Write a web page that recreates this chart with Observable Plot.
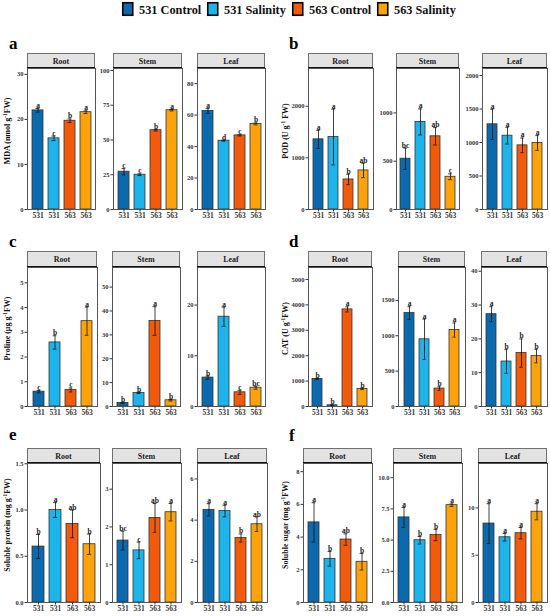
<!DOCTYPE html>
<html><head><meta charset="utf-8">
<script src="https://cdn.jsdelivr.net/npm/d3@7"></script>
<script src="https://cdn.jsdelivr.net/npm/@observablehq/plot@0.6"></script>
<style>
body{margin:0;background:#fff;}
#root{position:relative;width:550px;height:616px;overflow:hidden;font-family:'Liberation Serif','Times New Roman','DejaVu Serif',serif;}
#root svg{position:absolute;}
#root svg text{font-family:'Liberation Serif','Times New Roman','DejaVu Serif',serif;}
</style></head>
<body><div id="root"></div>
<script>
// ---------- data ----------
const tissues = ["Root","Stem","Leaf"];
const groups = ["531 Control","531 Salinity","563 Control","563 Salinity"];
const xLabels = ["531","531","563","563"];
const colors = ["#0a6aad","#1cb4ea","#f25a0c","#fca30c"];

// a: MDA
const mdaMean = [[22.0,15.8,19.7,21.6],[27.2,25.0,57.0,71.4],[62.6,43.7,47.1,54.4]];
const mdaErr  = [[0.4,0.5,0.4,0.3],[2.2,0.6,0.6,0.5],[1.5,0.3,0.4,0.6]];
const mdaSig  = [["a","c","b","a"],["c","c","b","a"],["a","d","c","b"]];
const mdaMax  = [31.3,101.4,89.6];
const mdaTicks = [[0,10,20,30],[0,25,50,75,100],[0,20,40,60,80]];
const mdaFmt = ["","",""];

// b: POD
const podMean = [[1359,1404,582,757],[526,907,758,339],[1272,1102,958,993]];
const podErr  = [[175,540,100,140],[110,135,90,30],[225,125,110,110]];
const podSig  = [["a","a","b","ab"],["bc","a","ab","c"],["a","a","a","a"]];
const podMax  = [2731,1460,2105];
const podTicks = [[0,1000,2000],[0,500,1000],[0,500,1000,1500,2000]];
const podFmt = ["","",""];

// c: Proline
const proMean = [[0.60,2.59,0.67,3.45],[1.5,5.7,35.8,2.6],[5.7,17.7,2.8,3.7]];
const proErr  = [[0.05,0.27,0.08,0.57],[0.2,0.3,6.0,0.3],[0.3,1.9,0.4,0.3]];
const proSig  = [["c","b","c","a"],["b","b","a","b"],["b","a","c","bc"]];
const proMax  = [5.62,58.2,27.4];
const proTicks = [[0,1,2,3,4,5],[0,10,20,30,40,50],[0,10,20]];
const proFmt = ["","",""];

// d: CAT
const catMean = [[1086,50,3822,694],[1321,950,254,1081],[27.3,13.3,15.8,14.9]];
const catErr  = [[20,10,100,30],[90,285,25,100],[2.2,3.5,4.2,2.0]];
const catSig  = [["b","b","a","b"],["a","a","b","a"],["a","b","b","b"]];
const catMax  = [5471,1965,41.1];
const catTicks = [[0,1000,2000,3000,4000,5000],[0,500,1000,1500],[0,10,20,30,40]];
const catFmt = ["","",""];

// e: Soluble protein
const spMean = [[0.605,1.0,0.85,0.63],[1.64,1.38,2.24,2.39],[4.5,4.44,3.13,3.8]];
const spErr  = [[0.13,0.08,0.15,0.11],[0.25,0.22,0.38,0.23],[0.3,0.28,0.2,0.35]];
const spSig  = [["b","a","ab","b"],["bc","c","ab","a"],["a","a","b","ab"]];
const spMax  = [1.503,3.68,6.75];
const spTicks = [[0,0.5,1,1.5],[0,1,2,3],[0,2,4,6]];
const spFmt = [".1f","",""];

// f: Soluble sugar
const ssMean = [[4.9,2.67,3.85,2.49],[6.82,4.99,5.41,7.8],[8.35,6.9,7.33,9.6]];
const ssErr  = [[1.2,0.45,0.35,0.5],[0.8,0.3,0.45,0.1],[2.1,0.4,0.6,0.85]];
const ssSig  = [["a","b","ab","b"],["a","b","b","a"],["a","a","a","a"]];
const ssMax  = [8.5,11.14,14.7];
const ssTicks = [[0,2,4,6,8],[0,2.5,5,7.5,10],[0,5,10]];
const ssFmt = ["",".1f",""];

const panelLetters = ["a","b","c","d","e","f"];
const yLabels = ["MDA (nmol g^-1FW)","POD (U g^-1 FW)","Proline (μg g^-1FW)","CAT (U g^-1FW)","Soluble protein (mg g^-1FW)","Soluble sugar (mg g^-1FW)"];

// ---------- layout ----------
const FONT = "'Liberation Serif','Times New Roman','DejaVu Serif',serif";
const LAYOUT = [
  {lx:9,   ly:48.5,  yx:9.5,   top:53,  sh:15, bottom:209, frames:[[27,95],[113,182],[197,265]]},
  {lx:289, ly:48.5,  yx:287.5, top:53,  sh:15, bottom:209, frames:[[308,373],[396,459],[482,547]]},
  {lx:9,   ly:246.5, yx:9.5,   top:251, sh:16, bottom:406, frames:[[27,97],[112,180],[197,265]]},
  {lx:289, ly:246.5, yx:287.5, top:251, sh:16, bottom:406, frames:[[308,372],[398,465],[481,547]]},
  {lx:9,   ly:440,   yx:9.5,   top:448, sh:15, bottom:602, frames:[[27,100],[112,181],[197,267]]},
  {lx:289, ly:441,   yx:287.5, top:448, sh:15, bottom:602, frames:[[303,372],[393,462],[478,547]]}
];
const PANELS = [
  [mdaMean,mdaErr,mdaSig,mdaMax,mdaTicks,mdaFmt],
  [podMean,podErr,podSig,podMax,podTicks,podFmt],
  [proMean,proErr,proSig,proMax,proTicks,proFmt],
  [catMean,catErr,catSig,catMax,catTicks,catFmt],
  [spMean,spErr,spSig,spMax,spTicks,spFmt],
  [ssMean,ssErr,ssSig,ssMax,ssTicks,ssFmt]
];

const root = document.getElementById("root");
const base = d3.select(root).append("svg").attr("width",550).attr("height",616)
  .style("left","0px").style("top","0px")
  .style("font-family",FONT).style("font-weight","bold");

// legend
const legX = [122,207,292,377];
groups.forEach((g,i)=>{
  base.append("rect").attr("x",legX[i]+0.75).attr("y",2.75).attr("width",10).attr("height",12.5)
    .attr("fill",colors[i]).attr("stroke","#000").attr("stroke-width",1.6);
  base.append("text").attr("x",legX[i]+17).attr("y",14).attr("font-size",12.3).attr("fill","#111").text(g);
});

function yLabel(str,x,cy){
  const t = base.append("text").attr("transform",`translate(${x},${cy}) rotate(-90)`)
    .attr("text-anchor","middle").attr("font-size",8).attr("fill","#111");
  const parts = str.split("^-1");
  t.append("tspan").text(parts[0]);
  t.append("tspan").attr("dy",-3).attr("font-size",5.5).text("-1");
  t.append("tspan").attr("dy",3).text(parts[1]);
}

PANELS.forEach((P,pi)=>{
  const L = LAYOUT[pi];
  const [mean,err,sig,maxs,ticks,fmts] = P;
  base.append("text").attr("x",L.lx).attr("y",L.ly).attr("font-size",17).attr("fill","#000").text(panelLetters[pi]);
  yLabel(yLabels[pi], L.yx, (L.top+L.bottom)/2);
  const sb = L.top + L.sh;
  tissues.forEach((tis,ti)=>{
    const [x0,x1] = L.frames[ti];
    base.append("rect").attr("x",x0+0.5).attr("y",L.top+0.5).attr("width",x1-x0-1).attr("height",L.sh-1)
      .attr("fill","#e3e3e3").attr("stroke","#707070").attr("stroke-width",1);
    base.append("text").attr("x",(x0+x1)/2).attr("y",L.top+L.sh/2+3).attr("text-anchor","middle")
      .attr("font-size",8).attr("fill","#222").text(tis);
    const rows = groups.map((g,gi)=>({g, m:mean[ti][gi], e:err[ti][gi], s:sig[ti][gi]}));
    const ml = 24, mr = 2, mb = 14;
    const W = x1-x0, H = L.bottom - sb;
    const step = W/4.2, bw = step*0.68, ci = (bw-4)/2;
    const f = d3.format(fmts[ti]);
    const svg = Plot.plot({
      width: W+ml+mr, height: H+mb,
      marginLeft: ml, marginRight: mr, marginTop: 0, marginBottom: mb,
      x: {domain: groups, paddingInner: 0.32, paddingOuter: 0.26, axis: null},
      y: {domain: [0, maxs[ti]], axis: null},
      color: {domain: groups, range: colors},
      style: {background:"transparent", fontFamily:FONT, fontWeight:"bold", color:"#333", overflow:"visible"},
      marks: [
        Plot.barY(rows, {x:"g", y:"m", fill:"g", stroke:"#333", strokeWidth:0.8}),
        Plot.ruleX(rows, {x:"g", y1:d=>d.m-d.e, y2:d=>d.m+d.e, stroke:"#111", strokeWidth:0.8}),
        Plot.tickY(rows, {x:"g", y:d=>d.m-d.e, insetLeft:ci, insetRight:ci, stroke:"#111", strokeWidth:0.8}),
        Plot.tickY(rows, {x:"g", y:d=>d.m+d.e, insetLeft:ci, insetRight:ci, stroke:"#111", strokeWidth:0.8}),
        Plot.text(rows, {x:"g", y:d=>d.m+d.e, text:"s", lineAnchor:"bottom", dy:-0.5, fontSize:7.5, fill:"#222"}),
        Plot.frame({stroke:"#555", strokeWidth:1}),
        Plot.axisY({ticks: ticks[ti], label:null, tickSize:2.5, tickPadding:1.5, fontSize:6.5, tickFormat: f}),
        Plot.axisX({label:null, tickSize:2.5, tickPadding:1, fontSize:7.5, tickFormat: d=>xLabels[groups.indexOf(d)]})
      ]
    });
    svg.style.left = (x0-ml)+"px";
    svg.style.top = sb+"px";
    root.appendChild(svg);
    base.append("line").attr("x1",x0).attr("x2",x1).attr("y1",sb-0.5).attr("y2",sb-0.5)
      .attr("stroke","#111").attr("stroke-width",1);
  });
});
</script></body></html>
